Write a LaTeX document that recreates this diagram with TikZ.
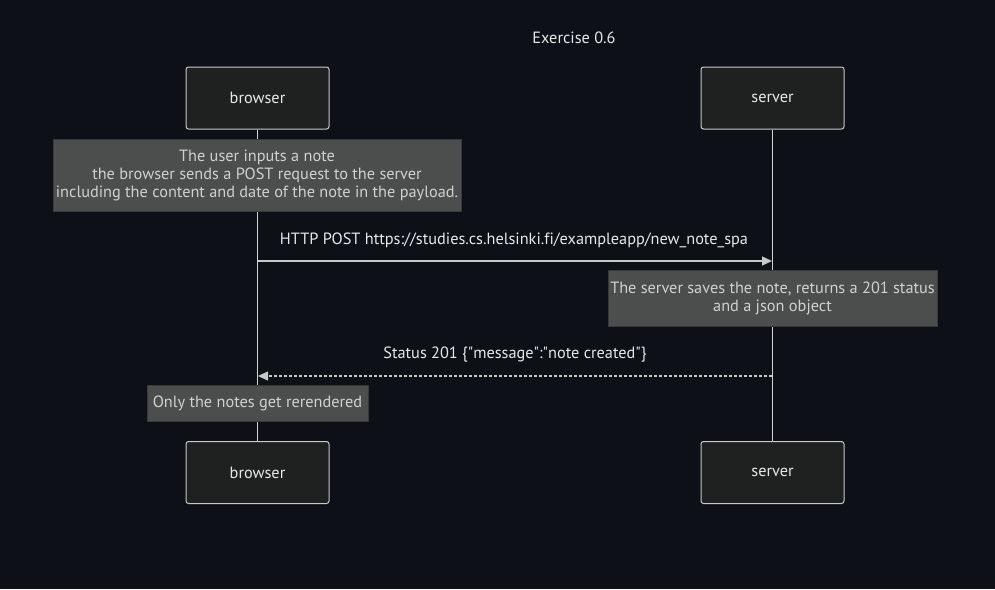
\documentclass[tikz,border=0pt]{standalone}
\usepackage{fontspec}
\setmainfont{PT Sans}[Ligatures={NoCommon}]
\usetikzlibrary{positioning}
\usetikzlibrary{arrows.meta}
\definecolor{bgdark}{HTML}{0D1017}
\definecolor{actorfill}{HTML}{1F2020}
\definecolor{actorline}{HTML}{C8C8C8}
\definecolor{notefill}{HTML}{4C4E4D}
\definecolor{noteline}{HTML}{383A39}
\definecolor{notetext}{HTML}{D0D0D0}
\definecolor{msgtext}{HTML}{E8E8E8}
\tikzset{
  actor/.style={draw=actorline,fill=actorfill,rounded corners=2.5pt,line width=1pt,
    minimum width=143pt,minimum height=62pt,text=msgtext,font=\fontsize{16.3}{18}\selectfont},
  note/.style={draw=noteline,fill=notefill,line width=1pt,text=notetext,align=center,
    font=\fontsize{16.3}{18}\selectfont,inner sep=0pt},
  msg/.style={text=msgtext,font=\fontsize{16.3}{18}\selectfont},
  lifeline/.style={draw=actorline!80,line width=1pt},
  call/.style={draw=actorline,line width=1.3pt,-{Triangle[length=10pt,width=9pt]}},
  reply/.style={call,dash pattern=on 3pt off 2pt}
}
\begin{document}
\begin{tikzpicture}[x=1pt,y=-1pt]
 \fill[bgdark](0,0) rectangle (995,589);
 \useasboundingbox (0,0) rectangle (995,589);
 \node[msg] (title) at (574,38) {Exercise 0.6};
 % actors
 \node[actor] (browsertop) at (257.5,98) {browser};
 \node[actor] (servertop) at (772.5,98) {server};
 \node[actor] (browserbot) at (257.5,472.5) {browser};
 \node[actor] (serverbot) at (772.5,472.5) {server};
 \draw[lifeline](browsertop)--(browserbot);
 \draw[lifeline](servertop)--(serverbot);
 % notes
 \node[note,minimum width=408pt,minimum height=72pt] (userinput) at (257,175) {The user inputs a note\\the browser sends a POST request to the server\\including the content and date of the note in the payload.};
 \node[note,minimum width=329pt,minimum height=56pt] (saves) at (772.5,298) {The server saves the note, returns a 201 status\\and a json object};
 \node[note,minimum width=221pt,minimum height=36pt] (rerender) at (257.5,403) {Only the notes get rerendered};
 % messages
 \coordinate (postfrom) at (258,261);
 \coordinate (postto) at (772,261);
 \coordinate (statusfrom) at (772,376);
 \coordinate (statusto) at (258,376);
 \draw[call](postfrom)--(postto);
 \node[msg] (posttext) at (514,240) {HTTP POST https://studies.cs.helsinki.fi/exampleapp/new\_note\_spa};
 \draw[reply](statusfrom)--(statusto);
 \node[msg] (statustext) at (515,355) {Status 201 \{\textquotedbl message\textquotedbl:\textquotedbl note created\textquotedbl\}};
\end{tikzpicture}
\end{document}
